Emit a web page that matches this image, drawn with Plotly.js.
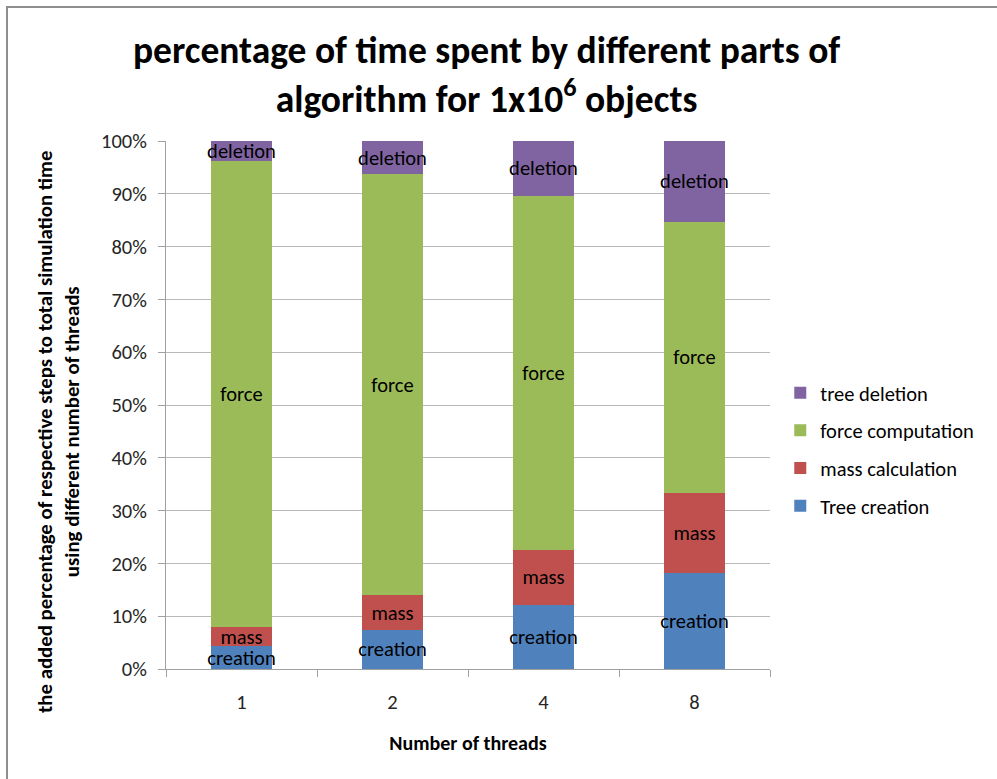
<!DOCTYPE html>
<html>
<head>
<meta charset="utf-8">
<script src="https://cdn.plot.ly/plotly-3.0.1.min.js"></script>
<style>
  html, body { margin: 0; padding: 0; background: #ffffff; }
  #wrap { position: relative; width: 997px; height: 779px; overflow: hidden; }
  #chart { width: 997px; height: 779px; }
  #frame {
    position: absolute; left: 6px; top: 6px; width: 1200px; height: 1000px;
    border-left: 2px solid #8e8e8e; border-top: 2px solid #8e8e8e;
    pointer-events: none;
  }
</style>
</head>
<body>
<div id="wrap">
  <div id="chart"></div>
  <div id="frame"></div>
</div>
<script>
// Thread counts on the x axis
const threads = ['1', '2', '4', '8'];

// Share of total simulation time (%) for each algorithm stage
const treeCreation     = [4.3, 7.4, 12.1, 18.2];
const massCalculation  = [3.6, 6.6, 10.5, 15.2];
const forceComputation = [88.3, 79.7, 67.0, 51.3];
const treeDeletion     = [3.8, 6.3, 10.4, 15.3];

// Short labels printed inside each segment
const segmentLabels = ['creation', 'mass', 'force', 'deletion'];
const seriesNames = ['Tree creation', 'mass calculation', 'force computation', 'tree deletion'];
const seriesColors = ['#4f81bd', '#c0504d', '#9bbb59', '#8064a2'];
const seriesValues = [treeCreation, massCalculation, forceComputation, treeDeletion];

const yTickVals = [0, 10, 20, 30, 40, 50, 60, 70, 80, 90, 100];
const yTickText = ['0%', '10%', '20%', '30%', '40%', '50%', '60%', '70%', '80%', '90%', '100%'];

const labelFont = 'Carlito, "Liberation Sans Narrow", "Open Sans", sans-serif';

const traces = seriesValues.map((vals, i) => ({
  type: 'bar',
  name: seriesNames[i],
  x: threads,
  y: vals,
  legendgroup: 'g' + i,
  legendrank: seriesValues.length - i,
  marker: { color: seriesColors[i], line: { width: 0 } },
  text: threads.map(() => segmentLabels[i]),
  texttemplate: '%{text}',
  textposition: 'inside',
  insidetextanchor: 'middle',
  textangle: 0,
  constraintext: 'none',
  insidetextfont: { family: labelFont, size: 20.5, color: '#000000' },
  hoverinfo: 'name+y'
}));

const layout = {
  width: 997,
  height: 779,
  barmode: 'stack',
  bargap: 0.59,
  paper_bgcolor: '#ffffff',
  plot_bgcolor: '#ffffff',
  margin: { l: 166, r: 227, t: 141, b: 110 },
  font: { family: labelFont, size: 20, color: '#000000' },
  title: {
    text: 'percentage of time spent by different parts of<br>algorithm for 1x10<sup>6</sup> objects',
    font: { family: labelFont, size: 37.5, color: '#000000', weight: 'bold' },
    xref: 'container', x: 0.488, xanchor: 'center',
    yref: 'container', y: 0.9185, yanchor: 'top'
  },
  xaxis: {
    type: 'category',
    tickvals: threads,
    showgrid: false,
    showline: true,
    linecolor: '#a0a0a0',
    linewidth: 1,
    ticks: 'outside',
    tickson: 'boundaries',
    ticklen: 7,
    tickcolor: '#a0a0a0',
    ticklabelstandoff: 14,
    tickfont: { family: labelFont, size: 20.5, color: '#262626' },
    title: {
      text: '<b>Number of threads</b>',
      font: { family: labelFont, size: 20, color: '#000000' },
      standoff: 22
    },
    fixedrange: true
  },
  yaxis: {
    range: [0, 100],
    tickvals: yTickVals,
    ticktext: yTickText,
    showgrid: true,
    gridcolor: '#b8b8b8',
    gridwidth: 1,
    showline: true,
    linecolor: '#a0a0a0',
    linewidth: 1,
    ticks: 'outside',
    ticklen: 7,
    tickcolor: '#a0a0a0',
    ticklabelstandoff: 7,
    tickfont: { family: labelFont, size: 20.5, color: '#262626' },
    zeroline: false,
    fixedrange: true
  },
  legend: {
    x: 1.017, xanchor: 'left',
    y: 0.416, yanchor: 'middle',
    traceorder: 'grouped',
    tracegroupgap: 8,
    font: { family: labelFont, size: 20.5, color: '#000000' },
    bgcolor: 'rgba(0,0,0,0)'
  },
  annotations: [{
    text: '<b>the added percentage of respective steps to total simulation time<br>using different number of threads</b>',
    font: { family: labelFont, size: 20.8, color: '#000000' },
    textangle: -90,
    xref: 'paper', yref: 'paper',
    x: -0.178, y: 0.45,
    xanchor: 'center', yanchor: 'middle',
    showarrow: false
  }]
};

Plotly.newPlot('chart', traces, layout, { displayModeBar: false, staticPlot: true });
</script>
</body>
</html>
